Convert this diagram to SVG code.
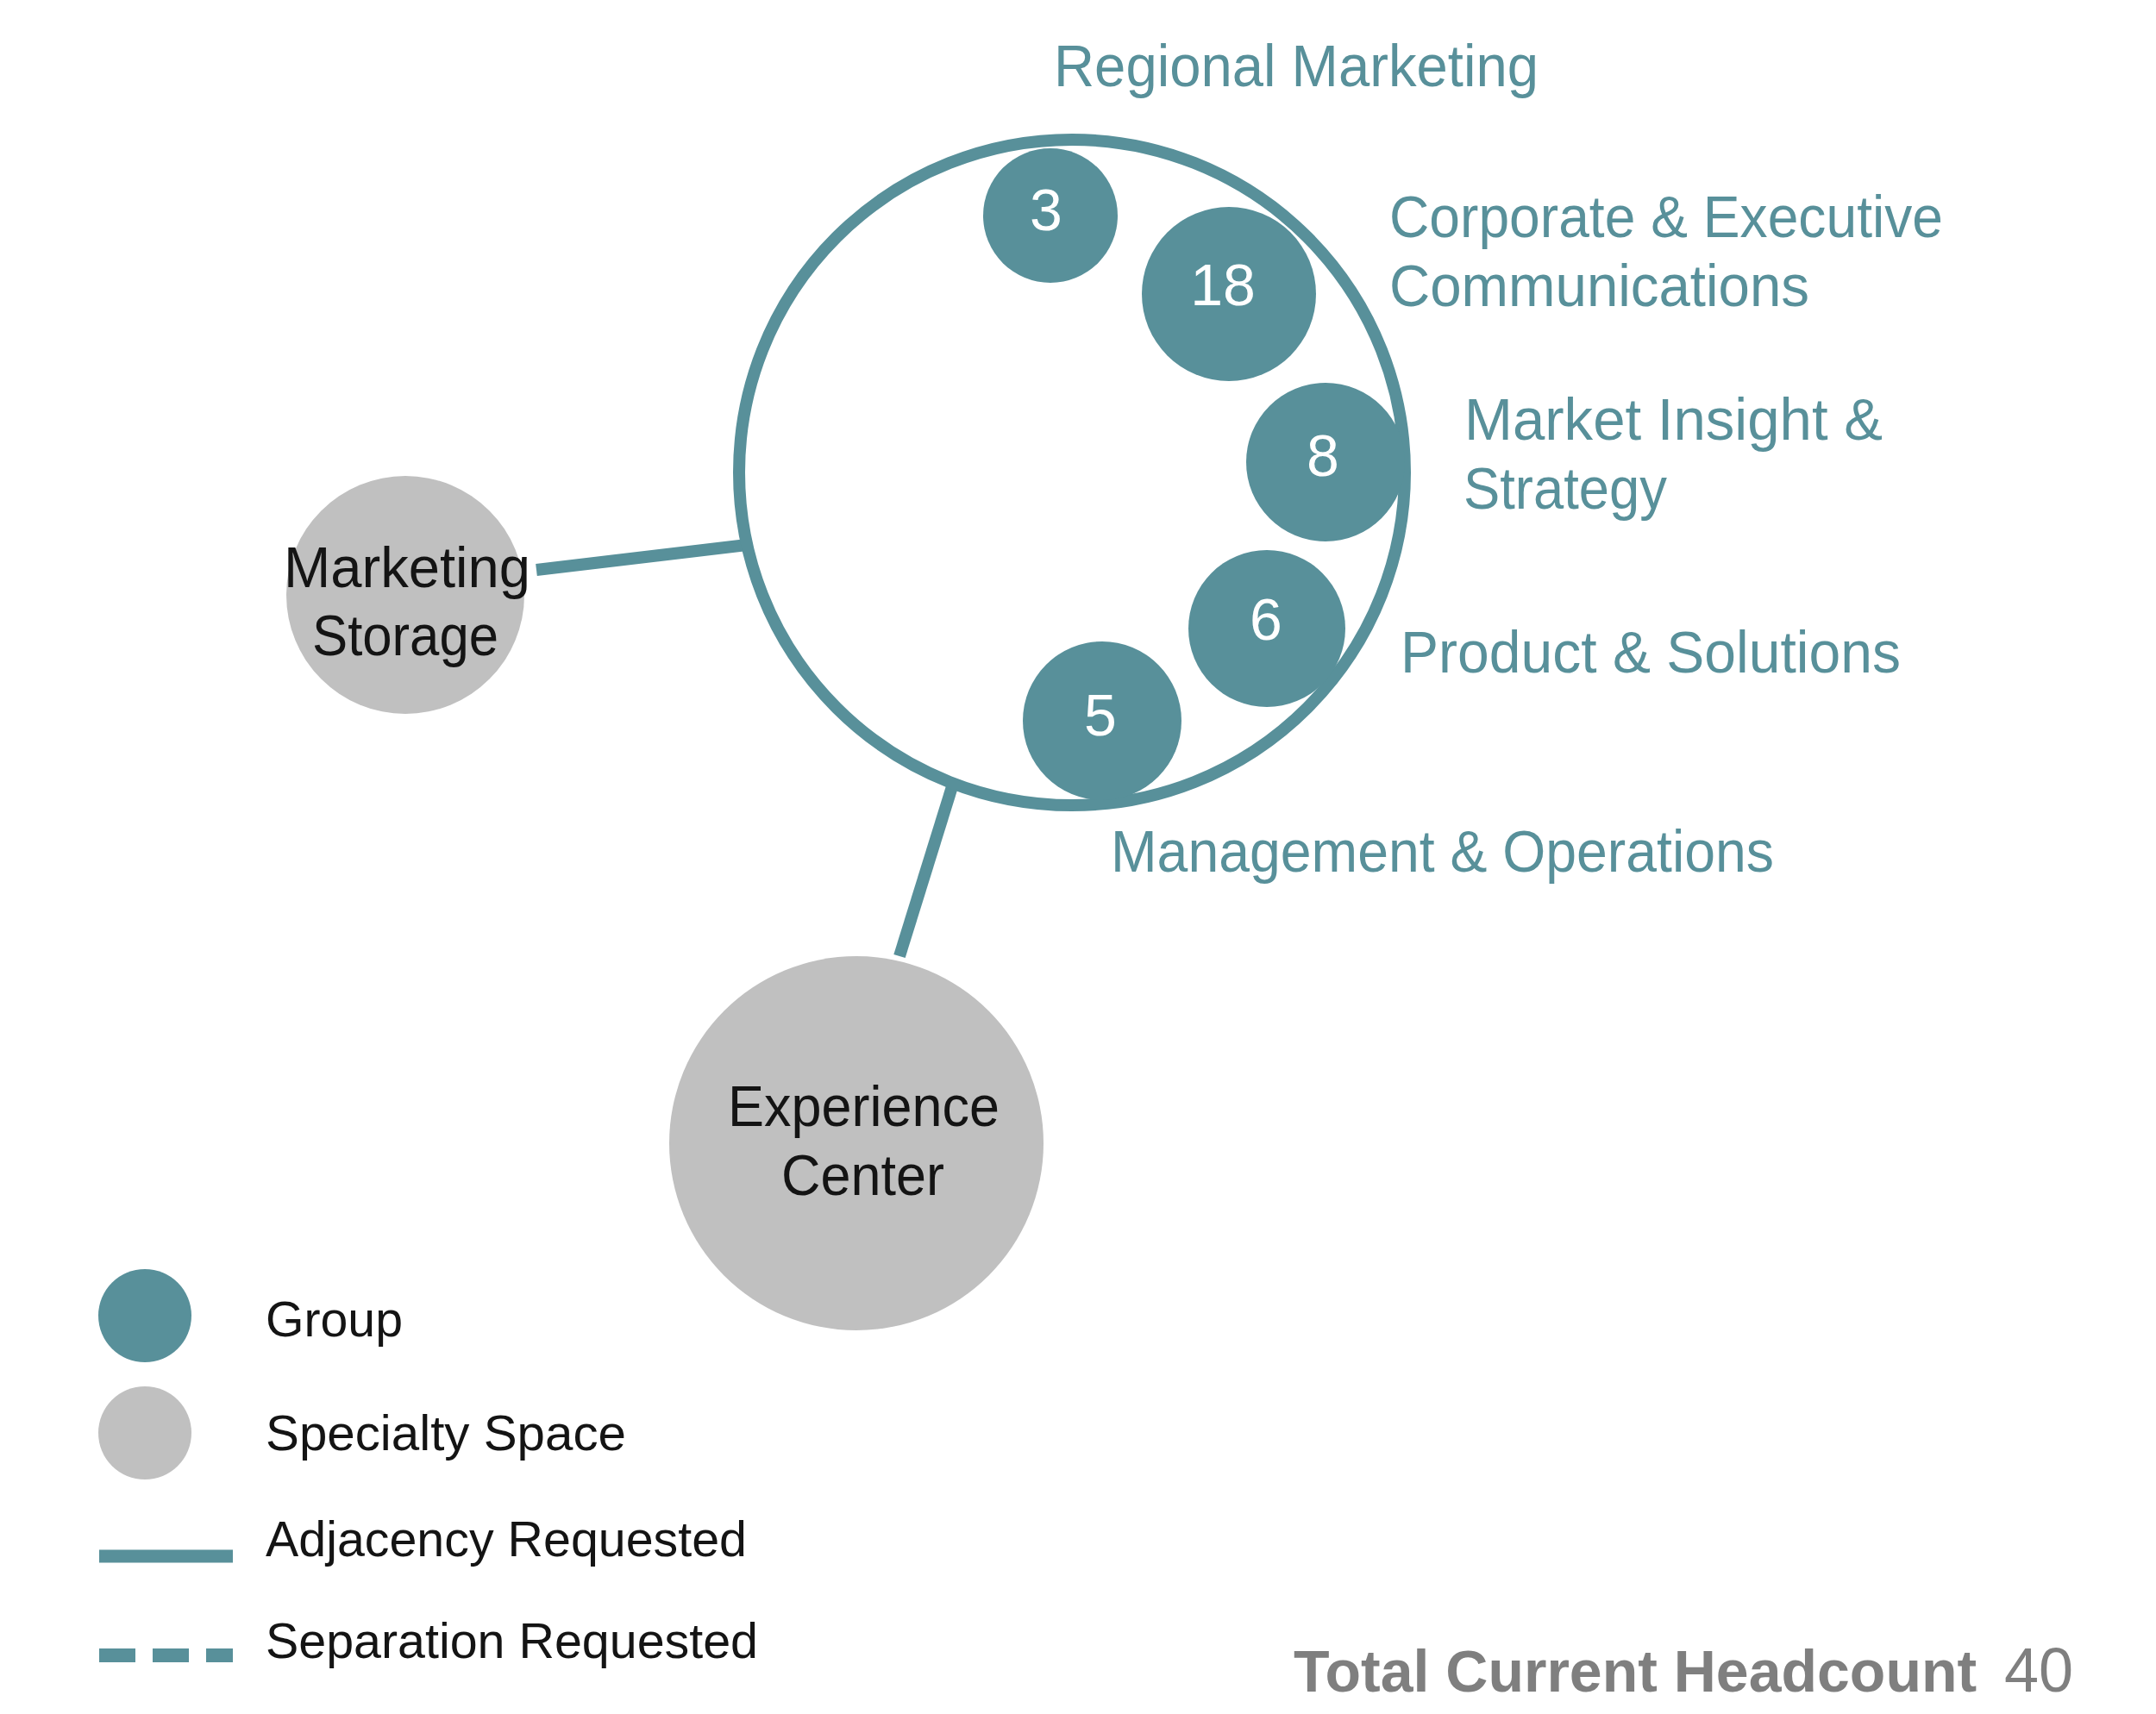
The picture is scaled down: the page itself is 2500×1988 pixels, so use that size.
<svg xmlns="http://www.w3.org/2000/svg" width="2500" height="1988" viewBox="0 0 2500 1988">
<style>
  text { font-family: "Liberation Sans", Arial, sans-serif; }
  .lbl { fill: #58909A; font-size: 68px; }
  .num { fill: #FFFFFF; font-size: 68px; text-anchor: middle; }
  .blk { fill: #141414; font-size: 67px; }
  .leg { fill: #141414; font-size: 57px; }
  .grp { fill: #58909A; }
  .spc { fill: #C0C0C0; }
  .adj { stroke: #58909A; stroke-width: 14; fill: none; }
  .tot { fill: #7F7F7F; }
</style>
<rect width="2500" height="1988" fill="#FFFFFF"/>

<g id="connectors">
  <line class="adj" x1="622" y1="661" x2="866" y2="632"/>
  <line class="adj" x1="1106" y1="906" x2="1043" y2="1109"/>
</g>

<g id="marketing-dept">
  <circle cx="1243" cy="548" r="386" fill="#FFFFFF" stroke="#58909A" stroke-width="14"/>
</g>

<g id="regional-marketing">
  <circle class="grp" cx="1218" cy="250" r="78"/>
  <text class="num" x="1213" y="267">3</text>
  <text class="lbl" x="1222" y="100" textLength="562" lengthAdjust="spacingAndGlyphs">Regional Marketing</text>
</g>

<g id="corporate-executive-communications">
  <circle class="grp" cx="1425" cy="341" r="101"/>
  <text class="num" x="1418" y="354">18</text>
  <text class="lbl" x="1611" y="275" textLength="642" lengthAdjust="spacingAndGlyphs">Corporate &amp; Executive</text>
  <text class="lbl" x="1611" y="355" textLength="487" lengthAdjust="spacingAndGlyphs">Communications</text>
</g>

<g id="market-insight-strategy">
  <circle class="grp" cx="1537" cy="536" r="92"/>
  <text class="num" x="1534" y="552">8</text>
  <text class="lbl" x="1698" y="510" textLength="485" lengthAdjust="spacingAndGlyphs">Market Insight &amp;</text>
  <text class="lbl" x="1697" y="590" textLength="236" lengthAdjust="spacingAndGlyphs">Strategy</text>
</g>

<g id="product-solutions">
  <circle class="grp" cx="1469" cy="729" r="91"/>
  <text class="num" x="1468" y="742">6</text>
  <text class="lbl" x="1624" y="780" textLength="580" lengthAdjust="spacingAndGlyphs">Product &amp; Solutions</text>
</g>

<g id="management-operations">
  <circle class="grp" cx="1278" cy="836" r="92"/>
  <text class="num" x="1276" y="853">5</text>
  <text class="lbl" x="1288" y="1011" textLength="769" lengthAdjust="spacingAndGlyphs">Management &amp; Operations</text>
</g>

<g id="marketing-storage">
  <circle class="spc" cx="470" cy="690" r="138"/>
  <text class="blk" x="329" y="681" textLength="286" lengthAdjust="spacingAndGlyphs">Marketing</text>
  <text class="blk" x="362" y="760" textLength="216" lengthAdjust="spacingAndGlyphs">Storage</text>
</g>

<g id="experience-center">
  <circle class="spc" cx="993" cy="1326" r="217"/>
  <text class="blk" x="844" y="1306" textLength="315" lengthAdjust="spacingAndGlyphs">Experience</text>
  <text class="blk" x="906" y="1386" textLength="189" lengthAdjust="spacingAndGlyphs">Center</text>
</g>

<g id="legend">
  <circle class="grp" cx="168" cy="1526" r="54"/>
  <text class="leg" x="308" y="1550" textLength="159" lengthAdjust="spacingAndGlyphs">Group</text>
  <circle class="spc" cx="168" cy="1662" r="54"/>
  <text class="leg" x="308" y="1682" textLength="418" lengthAdjust="spacingAndGlyphs">Specialty Space</text>
  <line x1="115" y1="1805" x2="270" y2="1805" stroke="#58909A" stroke-width="15"/>
  <text class="leg" x="308" y="1805" textLength="558" lengthAdjust="spacingAndGlyphs">Adjacency Requested</text>
  <line x1="115" y1="1920" x2="270" y2="1920" stroke="#58909A" stroke-width="16" stroke-dasharray="42 20"/>
  <text class="leg" x="308" y="1923" textLength="571" lengthAdjust="spacingAndGlyphs">Separation Requested</text>
</g>

<g id="total-headcount">
  <text class="tot" x="1500" y="1962" font-size="68" font-weight="bold">Total Current Headcount</text>
  <text class="tot" x="2324" y="1962" font-size="72">40</text>
</g>
</svg>
